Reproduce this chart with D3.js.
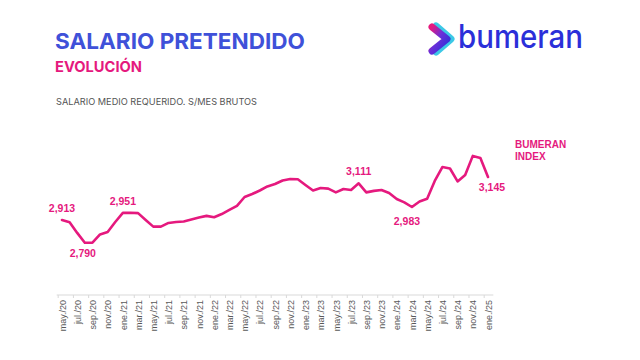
<!DOCTYPE html>
<html><head><meta charset="utf-8">
<script src="https://cdn.jsdelivr.net/npm/d3@7/dist/d3.min.js"></script>
<style>body{margin:0;background:#fff}svg{display:block}</style>
</head><body>
<script>
const months = ["may./20","jun./20","jul./20","ago./20","sep./20","oct./20","nov./20","dic./20",
"ene./21","feb./21","mar./21","abr./21","may./21","jun./21","jul./21","ago./21","sep./21","oct./21","nov./21","dic./21",
"ene./22","feb./22","mar./22","abr./22","may./22","jun./22","jul./22","ago./22","sep./22","oct./22","nov./22","dic./22",
"ene./23","feb./23","mar./23","abr./23","may./23","jun./23","jul./23","ago./23","sep./23","oct./23","nov./23","dic./23",
"ene./24","feb./24","mar./24","abr./24","may./24","jun./24","jul./24","ago./24","sep./24","oct./24","nov./24","dic./24",
"ene./25"];
const salary = [2913,2901,2843,2790,2790,2835,2848,2902,
2951,2952,2950,2913,2877,2877,2897,2902,2905,2916,2926,2935,
2928,2945,2967,2989,3037,3053,3072,3094,3107,3126,3134,3133,
3102,3072,3086,3082,3062,3080,3075,3111,3062,3070,3075,3059,
3026,3008,2983,3013,3028,3124,3199,3191,3121,3156,3259,3248,
3145];
// annotated points: index, position (above/below), label
const annotations = [
  {i:0, pos:"above", text:"2,913"},
  {i:3, pos:"below", text:"2,790"},
  {i:8, pos:"above", text:"2,951"},
  {i:39, pos:"above", text:"3,111"},
  {i:46, pos:"below", text:"2,983"},
  {i:56, pos:"below", text:"3,145"}
];
const tickLabels = months.filter((m,i)=>i%2===0);

const W=640,H=360;
const PINK="#e5197e", BLUE="#3f51d9";
const svg=d3.select("body").append("svg").attr("width",W).attr("height",H);

// Titles
svg.append("text").attr("x",55).attr("y",49).attr("fill",BLUE)
  .attr("font-family","Inter, 'Open Sans', sans-serif").attr("font-weight",700).attr("font-size",22)
  .attr("textLength",250).attr("lengthAdjust","spacingAndGlyphs").text("SALARIO PRETENDIDO");
svg.append("text").attr("x",55).attr("y",72).attr("fill",PINK)
  .attr("font-family","Inter, 'Open Sans', sans-serif").attr("font-weight",700).attr("font-size",15)
  .attr("textLength",87).attr("lengthAdjust","spacingAndGlyphs").text("EVOLUCIÓN");
svg.append("text").attr("x",56).attr("y",105).attr("fill","#555")
  .attr("font-family","Inter, 'Open Sans', sans-serif").attr("font-weight",400).attr("font-size",9.5)
  .attr("textLength",201).attr("lengthAdjust","spacingAndGlyphs").text("SALARIO MEDIO REQUERIDO. S/MES BRUTOS");

// Logo
const defs=svg.append("defs");
const g1=defs.append("linearGradient").attr("id","lg").attr("x1","0").attr("y1","0").attr("x2","1").attr("y2","1");
g1.append("stop").attr("offset","0%").attr("stop-color","#e5197e");
g1.append("stop").attr("offset","45%").attr("stop-color","#6a2fd8");
g1.append("stop").attr("offset","100%").attr("stop-color","#2b2fd9");
const logo=svg.append("g");
logo.append("path").attr("d","M436,26 L451,39 L436,52").attr("fill","none")
  .attr("stroke","#3cc8e6").attr("stroke-width",7).attr("stroke-linecap","round").attr("stroke-linejoin","round");
logo.append("path").attr("d","M432,27 L447,39 L432,51").attr("fill","none")
  .attr("stroke","url(#lg)").attr("stroke-width",7).attr("stroke-linecap","round").attr("stroke-linejoin","round");
svg.append("text").attr("x",458).attr("y",48).attr("fill","#2b2fd9")
  .attr("font-family","Inter, 'Open Sans', sans-serif").attr("font-weight",500).attr("font-size",32)
  .attr("textLength",125).attr("lengthAdjust","spacingAndGlyphs").text("bumeran");

// Scales
const x=d3.scalePoint().domain(months).range([62,488]);
const y=d3.scaleLinear().domain([2700,3300]).range([259.4,148.3]);
const step=x.step();

// X axis
const axisY=295;
const axis=d3.axisBottom(x).tickValues(tickLabels).tickSize(0).tickPadding(0);
const ax=svg.append("g").attr("transform",`translate(0,${axisY})`).call(axis);
ax.select(".domain").remove();
ax.append("line").attr("x1",x(months[0])-step*0.7).attr("x2",x(months[months.length-1])+step*0.7)
  .attr("stroke","#d9d9d9").attr("stroke-width",1);
ax.selectAll(".tick line").remove();
tickLabels.forEach(m=>{
  ax.append("line").attr("x1",x(m)-step/2).attr("x2",x(m)-step/2).attr("y1",0).attr("y2",3)
    .attr("stroke","#d9d9d9");
});
ax.selectAll(".tick text")
  .attr("transform","rotate(-90)").attr("text-anchor","end")
  .attr("x",-5).attr("y",0).attr("dy","0.35em")
  .attr("fill","#595959").attr("font-family","'Liberation Sans', Arial, sans-serif").attr("font-size",9);

// Line
const line=d3.line().x((d,i)=>x(months[i])).y(d=>y(d));
svg.append("path").datum(salary).attr("d",line).attr("fill","none")
  .attr("stroke",PINK).attr("stroke-width",2.6).attr("stroke-linejoin","round").attr("stroke-linecap","round");

// Annotations
svg.selectAll("text.ann").data(annotations).join("text").attr("class","ann")
  .attr("x",d=>x(months[d.i]) + (d.i===3?-2:d.i===46?-5:d.i===56?4:0))
  .attr("y",d=>y(salary[d.i]) + (d.pos==="above"?-8:d.i===56?14:d.i===46?18:14))
  .attr("text-anchor","middle").attr("fill",PINK)
  .attr("font-family","'Liberation Sans', Arial, sans-serif").attr("font-weight",700).attr("font-size",10.5)
  .text(d=>d.text);

// Series label
const sl=svg.append("text").attr("fill",PINK).attr("font-family","'Liberation Sans', Arial, sans-serif")
  .attr("font-weight",700).attr("font-size",10);
sl.append("tspan").attr("x",515).attr("y",148).text("BUMERAN");
sl.append("tspan").attr("x",515).attr("y",160).text("INDEX");
</script>
</body></html>
